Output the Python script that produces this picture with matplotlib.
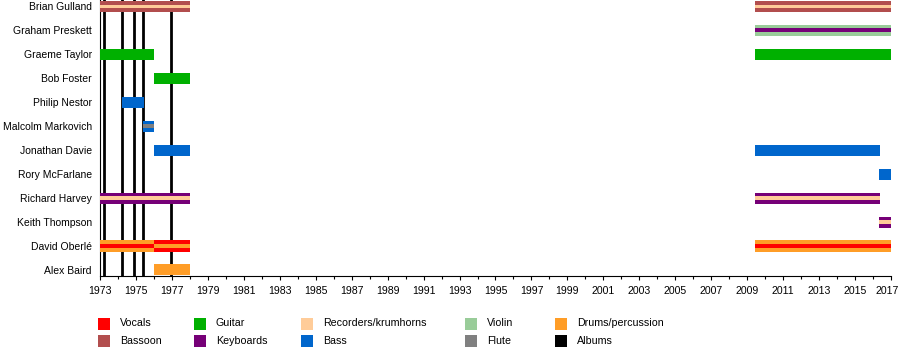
import matplotlib
matplotlib.use("Agg")
import matplotlib.pyplot as plt
from matplotlib.patches import Rectangle
from matplotlib.transforms import offset_copy

plt.rcParams['font.family'] = ['Liberation Sans', 'DejaVu Sans']

# band members, top to bottom
members = ["Brian Gulland", "Graham Preskett", "Graeme Taylor", "Bob Foster",
           "Philip Nestor", "Malcolm Markovich", "Jonathan Davie", "Rory McFarlane",
           "Richard Harvey", "Keith Thompson", "David Oberlé", "Alex Baird"]

# one entry per bar: member, start, end, main role, secondary role (stripe)
bar_member = ["Brian Gulland", "Brian Gulland", "Graham Preskett", "Graeme Taylor",
              "Graeme Taylor", "Bob Foster", "Philip Nestor", "Malcolm Markovich",
              "Jonathan Davie", "Jonathan Davie", "Rory McFarlane", "Richard Harvey",
              "Richard Harvey", "Keith Thompson", "David Oberlé", "David Oberlé",
              "David Oberlé", "Alex Baird"]
bar_start = [1973.0, 2009.43, 2009.43, 1973.0, 2009.43, 1976.0, 1974.22, 1975.4,
             1976.0, 2009.43, 2016.35, 1973.0, 2009.43, 2016.35, 1973.0, 1976.0,
             2009.43, 1976.0]
bar_end = [1978.0, 2017.0, 2017.0, 1976.0, 2017.0, 1978.0, 1975.45, 1976.0,
           1978.0, 2016.4, 2017.0, 1978.0, 2016.4, 2017.0, 1976.0, 1978.0,
           2017.0, 1978.0]
bar_role = ["Bassoon", "Bassoon", "Violin", "Guitar", "Guitar", "Guitar", "Bass", "Bass",
            "Bass", "Bass", "Bass", "Keyboards", "Keyboards", "Keyboards",
            "Drums/percussion", "Vocals", "Drums/percussion", "Drums/percussion"]
bar_inner = ["Recorders/krumhorns", "Recorders/krumhorns", "Keyboards", None, None, None,
             None, "Flute", None, None, None, "Recorders/krumhorns", "Recorders/krumhorns",
             "Recorders/krumhorns", "Vocals", "Drums/percussion", "Vocals", None]

# album release dates
albums = [1973.24, 1974.24, 1974.91, 1975.41, 1976.97]

roles = ["Vocals", "Bassoon", "Guitar", "Keyboards", "Recorders/krumhorns", "Bass",
         "Violin", "Flute", "Drums/percussion", "Albums"]
colors = {"Vocals": "#FF0000", "Bassoon": "#B24E4E", "Guitar": "#00B000",
          "Keyboards": "#760077", "Recorders/krumhorns": "#FFCC99", "Bass": "#0066CC",
          "Violin": "#99CC99", "Flute": "#808080", "Drums/percussion": "#FF9D27",
          "Albums": "#000000"}

fig = plt.figure(figsize=(9, 3.55), dpi=100)
ax = fig.add_axes([100/900, 1 - 275.7/355, 791/900, 275.7/355])

row = {m: i for i, m in enumerate(members)}
h = 0.46
for m, s, e, r, inner in zip(bar_member, bar_start, bar_end, bar_role, bar_inner):
    y = row[m]
    ax.barh(y, e - s, left=s, height=h, color=colors[r], zorder=3, linewidth=0)
    if inner:
        ax.barh(y, e - s, left=s, height=h * 0.36, color=colors[inner], zorder=4, linewidth=0)

for a in albums:
    ax.axvline(a, color="black", linewidth=2, zorder=2)

ax.set_xlim(1973, 2017)
ax.set_ylim(11.24, -0.271)
ax.set_yticks(range(len(members)))
ax.set_yticklabels(members, fontsize=7.5)
ax.tick_params(axis='y', length=0, pad=6)
ax.set_xticks(range(1973, 2018, 2))
ax.set_xticks(range(1973, 2018), minor=True)
ax.tick_params(axis='x', which='major', length=3.2, width=0.8, labelsize=7.6, pad=4)
ax.tick_params(axis='x', which='minor', length=1.8, width=0.8)
for side in ["top", "right"]:
    ax.spines[side].set_visible(False)
ax.spines["left"].set_linewidth(0.8)
ax.spines["bottom"].set_linewidth(0.8)

# keep the last year label inside the picture
fig.canvas.draw()
last = ax.get_xticklabels()[-1]
last.set_ha('right')
last.set_transform(offset_copy(last.get_transform(), fig=fig, x=8, y=0, units='dots'))

# legend, two rows, five columns
col_x = [98, 194, 301, 465, 555]
row_y = [323.5, 340.5]
for i, r in enumerate(roles):
    cx = col_x[i // 2]
    cy = row_y[i % 2]
    fig.patches.append(Rectangle((cx / 900, 1 - (cy + 6) / 355), 12 / 900, 12 / 355,
                                 transform=fig.transFigure, color=colors[r], linewidth=0))
    fig.text((cx + 22) / 900, 1 - cy / 355, r, fontsize=7.7, va='center', ha='left')

fig.savefig("out.png", dpi=100)
